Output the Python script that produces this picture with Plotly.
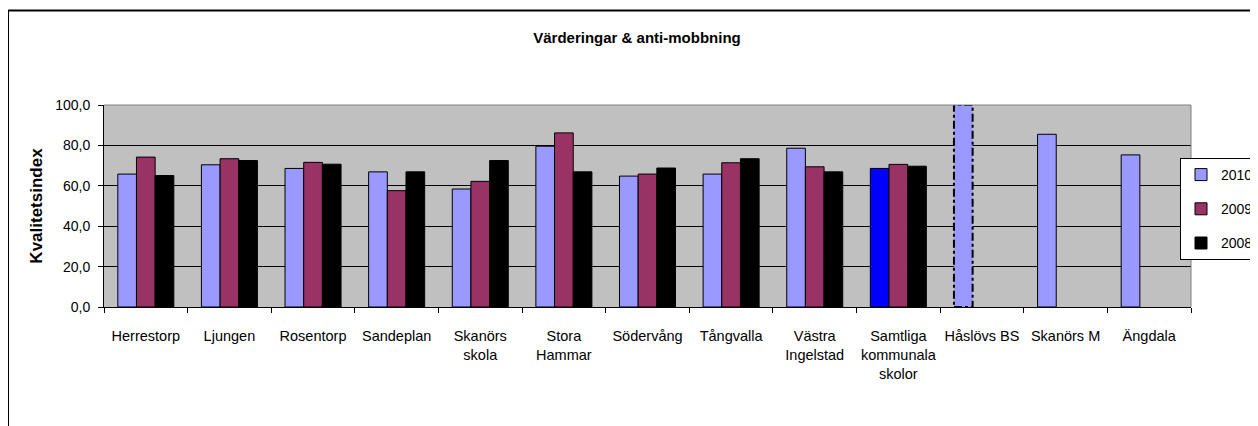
import plotly.graph_objects as go

# ---- data ----
categories = ["Herrestorp", "Ljungen", "Rosentorp", "Sandeplan", "Skanörs<br>skola",
              "Stora<br>Hammar", "Södervång", "Tångvalla", "Västra<br>Ingelstad",
              "Samtliga<br>kommunala<br>skolor", "Håslövs BS", "Skanörs M", "Ängdala"]
v2010 = [65.8, 70.4, 68.6, 66.9, 58.4, 79.6, 64.8, 65.8, 78.6, 68.6, 100.0, 85.5, 75.3]
v2009 = [74.2, 73.4, 71.6, 57.6, 62.2, 86.2, 65.8, 71.4, 69.4, 70.6, None, None, None]
v2008 = [65.1, 72.5, 70.7, 66.9, 72.5, 66.9, 68.8, 73.4, 66.9, 69.7, None, None, None]
series_names = ["2010", "2009", "2008"]
highlight_cat = "Samtliga<br>kommunala<br>skolor"
dashed_cat = "Håslövs BS"

# ---- styles ----
C2010, C2009, C2008, CHIGH = "#9999FF", "#993366", "#000000", "#0000FF"
FONT = "Liberation Sans, Arial, sans-serif"
BARGAP = 0.33
W, H = 1250, 418  # page has 8px body margin

colors2010 = [CHIGH if c == highlight_cat else C2010 for c in categories]
lw2010 = [0 if c == dashed_cat else 1 for c in categories]

fig = go.Figure()
fig.add_trace(go.Bar(x=categories, y=v2010, name=series_names[0], legendgroup="a",
                     marker=dict(color=colors2010, line=dict(color="black", width=lw2010))))
fig.add_trace(go.Bar(x=categories, y=v2009, name=series_names[1], legendgroup="b",
                     marker=dict(color=C2009, line=dict(color="black", width=1))))
fig.add_trace(go.Bar(x=categories, y=v2008, name=series_names[2], legendgroup="c",
                     marker=dict(color=C2008, line=dict(color="black", width=1))))

# dashed outline around the Håslövs BS bar (derived from data and bar layout)
idx = categories.index(dashed_cat)
n_series = 3
x0 = idx - (1 - BARGAP) / 2
x1 = x0 + (1 - BARGAP) / n_series
shapes = [
    dict(type="rect", xref="x", yref="y", x0=x0, x1=x1, y0=0, y1=v2010[idx],
         line=dict(color="black", width=2, dash="8px,3px,3px,3px"), layer="above"),
    # top and right plot border (gray)
    dict(type="line", xref="paper", yref="paper", x0=0, x1=1, y0=1, y1=1,
         line=dict(color="#808080", width=1), layer="above"),
    dict(type="line", xref="paper", yref="paper", x0=1, x1=1, y0=0, y1=1,
         line=dict(color="#808080", width=1), layer="above"),
    # outer chart border
    dict(type="rect", xref="paper", yref="paper", x0=-0.0883, x1=1.08, y0=-0.70, y1=1.468,
         line=dict(color="black", width=2), layer="above"),
]

fig.update_layout(
    width=W, height=H,
    margin=dict(l=96, r=67, t=97, b=119, autoexpand=False),
    paper_bgcolor="white", plot_bgcolor="#C0C0C0",
    barmode="group", bargap=BARGAP, bargroupgap=0,
    separators=", ",
    font=dict(family=FONT, color="black", size=14),
    title=dict(text="<b>Värderingar & anti-mobbning</b>", x=629 / W, xref="container",
               xanchor="center", y=1 - 30 / H, yref="container", yanchor="middle",
               font=dict(size=15, family=FONT, color="black")),
    legend=dict(x=1172 / W, xref="container", xanchor="left",
                y=1 - 150 / H, yref="container", yanchor="top",
                bgcolor="white", bordercolor="black", borderwidth=1,
                font=dict(size=14, family=FONT), tracegroupgap=13,
                traceorder="grouped"),
    shapes=shapes,
    showlegend=True,
)
fig.update_xaxes(type="category", showgrid=False, showline=True, linecolor="black", linewidth=1,
                 ticks="outside", tickson="boundaries", ticklen=5, tickcolor="black",
                 tickfont=dict(size=14.5, family=FONT), tickangle=0, ticklabelstandoff=16)
fig.update_yaxes(range=[0, 100], dtick=20, tickformat=".1f", showgrid=True, gridcolor="black",
                 gridwidth=1, zeroline=False, showline=True, linecolor="black", linewidth=1,
                 ticks="outside", ticklen=5, tickcolor="black", ticklabelstandoff=5,
                 tickfont=dict(size=14, family=FONT),
                 title=dict(text="<b>Kvalitetsindex</b>", font=dict(size=17, family=FONT), standoff=8))

fig.write_html("out.html")
